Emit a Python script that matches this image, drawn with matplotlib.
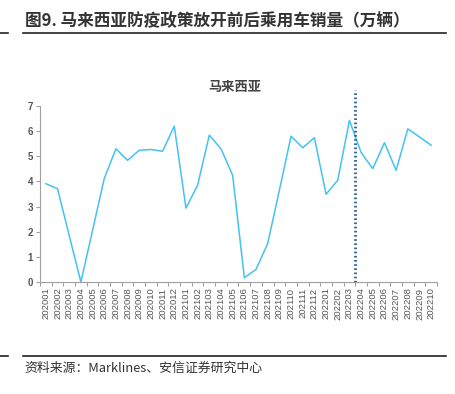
import numpy as np
import matplotlib.pyplot as plt
from matplotlib.lines import Line2D

plt.rcParams['font.family'] = ['Noto Sans CJK SC', 'DejaVu Sans']

# monthly passenger car sales in Malaysia (10k units)
months = ['202001', '202002', '202003', '202004', '202005', '202006', '202007', '202008',
          '202009', '202010', '202011', '202012', '202101', '202102', '202103', '202104',
          '202105', '202106', '202107', '202108', '202109', '202110', '202111', '202112',
          '202201', '202202', '202203', '202204', '202205', '202206', '202207', '202208',
          '202209', '202210']
sales = [3.91, 3.71, 1.85, 0.0, 2.05, 4.11, 5.30, 4.84, 5.24, 5.27, 5.20, 6.20,
         2.94, 3.85, 5.84, 5.30, 4.24, 0.17, 0.50, 1.53, 3.65, 5.80, 5.34, 5.74,
         3.49, 4.05, 6.43, 5.15, 4.51, 5.54, 4.44, 6.09, 5.77, 5.44]
reopen_after = '202203'  # policy reopened between 202203 and 202204

fig = plt.figure(figsize=(4.56, 3.94), dpi=100)
ax = fig.add_axes([40 / 456, 112 / 394, 397 / 456, 176 / 394])

x = np.arange(len(months))
ax.plot(x, sales, color='#45C2EF', lw=1.1)

# dotted marker for the reopening
xv = months.index(reopen_after) + 0.5
ax.axvline(xv, ymin=0, ymax=1.09, color='#2F5F93', lw=2.0, ls=(0, (0.6, 0.9)), clip_on=False)

ax.set_xlim(-0.5, len(months) - 0.5)
ax.set_ylim(0, 7)
ax.set_yticks(range(8))
ax.set_xticks(x)
ax.set_xticklabels(months, rotation=90, fontsize=6.8, color='#555555', family='Liberation Sans')
ax.set_xticks(np.arange(-0.5, len(months), 1), minor=True)
ax.tick_params(axis='x', which='major', length=0, pad=4)
ax.tick_params(axis='x', which='minor', length=3, color='#A0A0A0', width=0.8)
ax.tick_params(axis='y', length=3, color='#A0A0A0', width=0.8, labelsize=7, labelcolor='#555555', pad=2)
for lab in ax.get_yticklabels():
    lab.set_family('Liberation Sans')
    lab.set_fontweight('bold')
for s in ['top', 'right']:
    ax.spines[s].set_visible(False)
for s in ['left', 'bottom']:
    ax.spines[s].set_color('#A0A0A0')
    ax.spines[s].set_linewidth(0.8)

fig.text(235 / 456, 1 - 87 / 394, '马来西亚', ha='center', va='center', fontsize=9.5,
         fontweight='bold', color='#444444')

# header and footer
fig.text(25 / 456, 1 - 21 / 394, '图9. 马来西亚防疫政策放开前后乘用车销量（万辆）', ha='left', va='center',
         fontsize=12, fontweight='bold', color='#333333')
for y in [33, 356]:
    fig.add_artist(Line2D([23 / 456, 446 / 456], [1 - y / 394] * 2, color='#222222', lw=1.2))
    fig.add_artist(Line2D([0, 8 / 456], [1 - y / 394] * 2, color='#222222', lw=1.2))
fig.text(24 / 456, 1 - 368 / 394, '资料来源：Marklines、安信证券研究中心', ha='left', va='center',
         fontsize=9.3, style='italic', color='#333333')

fig.savefig('out.png', dpi=100)
